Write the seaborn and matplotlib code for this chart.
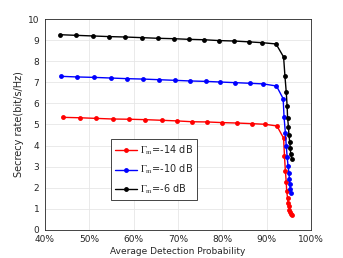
import numpy as np
import pandas as pd
import matplotlib
matplotlib.use("Agg")
import matplotlib.pyplot as plt
import seaborn as sns
from matplotlib.ticker import PercentFormatter

# Data
x_black = [0.434, 0.470, 0.508, 0.544, 0.581, 0.618, 0.654, 0.690, 0.724, 0.759, 0.793, 0.826, 0.859, 0.890, 0.921,
           0.938, 0.941, 0.944, 0.946, 0.947, 0.949, 0.950, 0.952, 0.953, 0.954, 0.956]
y_black = [9.27, 9.24, 9.21, 9.18, 9.16, 9.13, 9.10, 9.08, 9.05, 9.03, 8.99, 8.97, 8.93, 8.89, 8.83,
           8.21, 7.31, 6.53, 5.86, 5.32, 4.88, 4.50, 4.15, 3.87, 3.60, 3.38]
x_blue = [0.436, 0.473, 0.511, 0.548, 0.584, 0.621, 0.657, 0.693, 0.727, 0.762, 0.795, 0.828, 0.862, 0.892, 0.922,
          0.937, 0.939, 0.942, 0.944, 0.946, 0.948, 0.950, 0.951, 0.952, 0.953, 0.955]
y_blue = [7.29, 7.26, 7.24, 7.21, 7.18, 7.16, 7.13, 7.10, 7.07, 7.05, 7.02, 6.99, 6.96, 6.93, 6.83,
          6.23, 5.36, 4.60, 3.99, 3.47, 3.04, 2.71, 2.41, 2.17, 1.95, 1.76]
x_red = [0.440, 0.478, 0.516, 0.553, 0.590, 0.626, 0.663, 0.698, 0.732, 0.766, 0.799, 0.832, 0.866, 0.896, 0.923,
         0.938, 0.940, 0.942, 0.944, 0.945, 0.947, 0.948, 0.950, 0.951, 0.953, 0.954, 0.956]
y_red = [5.34, 5.32, 5.29, 5.26, 5.25, 5.23, 5.20, 5.17, 5.13, 5.12, 5.09, 5.07, 5.04, 5.01, 4.93,
         4.35, 3.50, 2.80, 2.25, 1.83, 1.50, 1.28, 1.10, 0.95, 0.83, 0.72, 0.68]

labels = [r'$\mathrm{\Gamma_m}$=-14 dB', r'$\mathrm{\Gamma_m}$=-10 dB', r'$\mathrm{\Gamma_m}$=-6 dB']
colors = ['#ff0000', '#0000ff', '#000000']

df = pd.concat([
    pd.DataFrame({'x': x_red, 'y': y_red, 'series': labels[0]}),
    pd.DataFrame({'x': x_blue, 'y': y_blue, 'series': labels[1]}),
    pd.DataFrame({'x': x_black, 'y': y_black, 'series': labels[2]}),
], ignore_index=True)

sns.set_theme(style="whitegrid")
plt.rcParams['font.family'] = ['DejaVu Sans']
plt.rcParams['mathtext.fontset'] = 'stix'

fig = plt.figure(figsize=(3.43, 2.58), dpi=100)
ax = fig.add_axes([0.131, 0.110, 0.776, 0.815])

sns.lineplot(data=df, x='x', y='y', hue='series', palette=dict(zip(labels, colors)),
             sort=False, estimator=None, units='series', marker='o', markersize=3.5,
             markeredgewidth=0, linewidth=1.0, ax=ax)

ax.set_xlim(0.4, 1.0)
ax.set_ylim(0, 10)
ax.set_xticks(np.arange(0.4, 1.001, 0.1))
ax.set_yticks(range(0, 11))
ax.xaxis.set_major_formatter(PercentFormatter(1.0, decimals=0))
ax.tick_params(labelsize=6.5, colors='#262626', length=2, direction='in')
ax.tick_params(axis='x', pad=4)
ax.tick_params(axis='y', pad=4)
ax.grid(True, color='#e6e6e6', linewidth=0.6)
ax.set_facecolor('white')
for s in ax.spines.values():
    s.set_color('#262626')
    s.set_linewidth(0.6)
ax.set_xlabel('Average Detection Probability', fontsize=6.5, color='#262626', labelpad=2)
ax.set_ylabel('Secrecy rate(bit/s/Hz)', fontsize=7, color='#262626', labelpad=3)

leg = ax.legend(loc='upper left', bbox_to_anchor=(0.248, 0.43), fontsize=7, frameon=True,
                fancybox=False, edgecolor='#262626', handlelength=2.2, borderpad=0.45,
                labelspacing=0.6, handletextpad=0.3, borderaxespad=0)
leg.get_frame().set_linewidth(0.6)
leg.get_frame().set_alpha(1)

fig.savefig('out.png', dpi=100)
